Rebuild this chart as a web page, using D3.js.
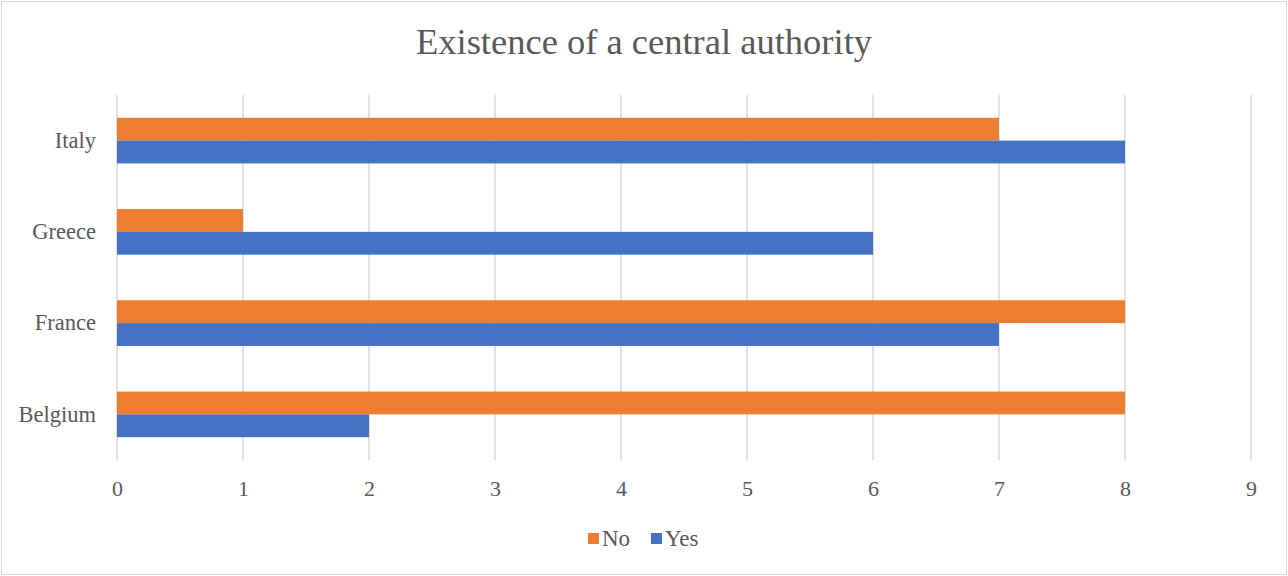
<!DOCTYPE html>
<html><head><meta charset="utf-8">
<script src="https://cdn.jsdelivr.net/npm/d3@7"></script>
<style>body{margin:0;background:#fff}svg{display:block}text{font-family:"Liberation Serif","Times New Roman",serif;fill:#595959}</style>
</head><body><svg id="c" width="1288" height="576"></svg>
<script>
const categories = ["Italy","Greece","France","Belgium"];
const seriesNames = ["No","Yes"];
const noValues = [7,1,8,8];
const yesValues = [8,6,7,2];
const tickValues = [0,1,2,3,4,5,6,7,8,9];
const colors = {No:"#ED7D31", Yes:"#4472C4"};

(function(){
const FONT = '"Liberation Serif","Times New Roman",serif';
const svg = d3.select("#c");
svg.append("rect").attr("x",1.5).attr("y",1.5).attr("width",1285).attr("height",573).attr("fill","#fff").attr("stroke","#d9d9d9");

const pLeft=117, pRight=1251, pTop=95, pBottom=460;
const x = d3.scaleLinear().domain([0,9]).range([pLeft,pRight]);
const y = d3.scaleBand().domain(categories).range([pTop,pBottom]).paddingInner(0.5).paddingOuter(0.25);
const ys = d3.scaleBand().domain(seriesNames).range([0,y.bandwidth()]);

svg.append("text").attr("x",644).attr("y",54).attr("text-anchor","middle").attr("font-size",36.5)
  .style("font-family",FONT).text("Existence of a central authority");

const grid = svg.append("g");
grid.selectAll("line").data(tickValues).join("line")
  .attr("x1",d=>x(d)).attr("x2",d=>x(d)).attr("y1",pTop).attr("y2",pBottom)
  .attr("stroke","#d9d9d9").attr("stroke-width",1.5);

const xAxis = svg.append("g").attr("transform",`translate(0,${pBottom})`)
  .call(d3.axisBottom(x).tickValues(tickValues).tickSize(0).tickPadding(20).tickFormat(d3.format("d")));
xAxis.select(".domain").remove();
xAxis.attr("font-family",null);
xAxis.selectAll("text").attr("font-size",22).style("font-family",FONT).attr("fill","#595959");

const yAxis = svg.append("g").attr("transform",`translate(${pLeft},0)`)
  .call(d3.axisLeft(y).tickSize(0).tickPadding(21));
yAxis.select(".domain").remove();
yAxis.attr("font-family",null);
yAxis.selectAll("text").attr("font-size",22.5).style("font-family",FONT).attr("fill","#595959");

const data = categories.map((c,i)=>({cat:c, No:noValues[i], Yes:yesValues[i]}));
const g = svg.append("g");
seriesNames.forEach(s=>{
  g.selectAll("rect."+s).data(data).join("rect").attr("class",s)
    .attr("x",x(0)).attr("y",d=>y(d.cat)+ys(s)).attr("height",ys.bandwidth())
    .attr("width",d=>x(d[s])-x(0)).attr("fill",colors[s]);
});

const leg = svg.append("g");
const legItems = [{n:"No",x:588},{n:"Yes",x:651}];
legItems.forEach(it=>{
  leg.append("rect").attr("x",it.x).attr("y",533).attr("width",11).attr("height",11).attr("fill",colors[it.n]);
  leg.append("text").attr("x",it.x+14).attr("y",546).attr("font-size",23).style("font-family",FONT).text(it.n);
});
})();
</script></body></html>
